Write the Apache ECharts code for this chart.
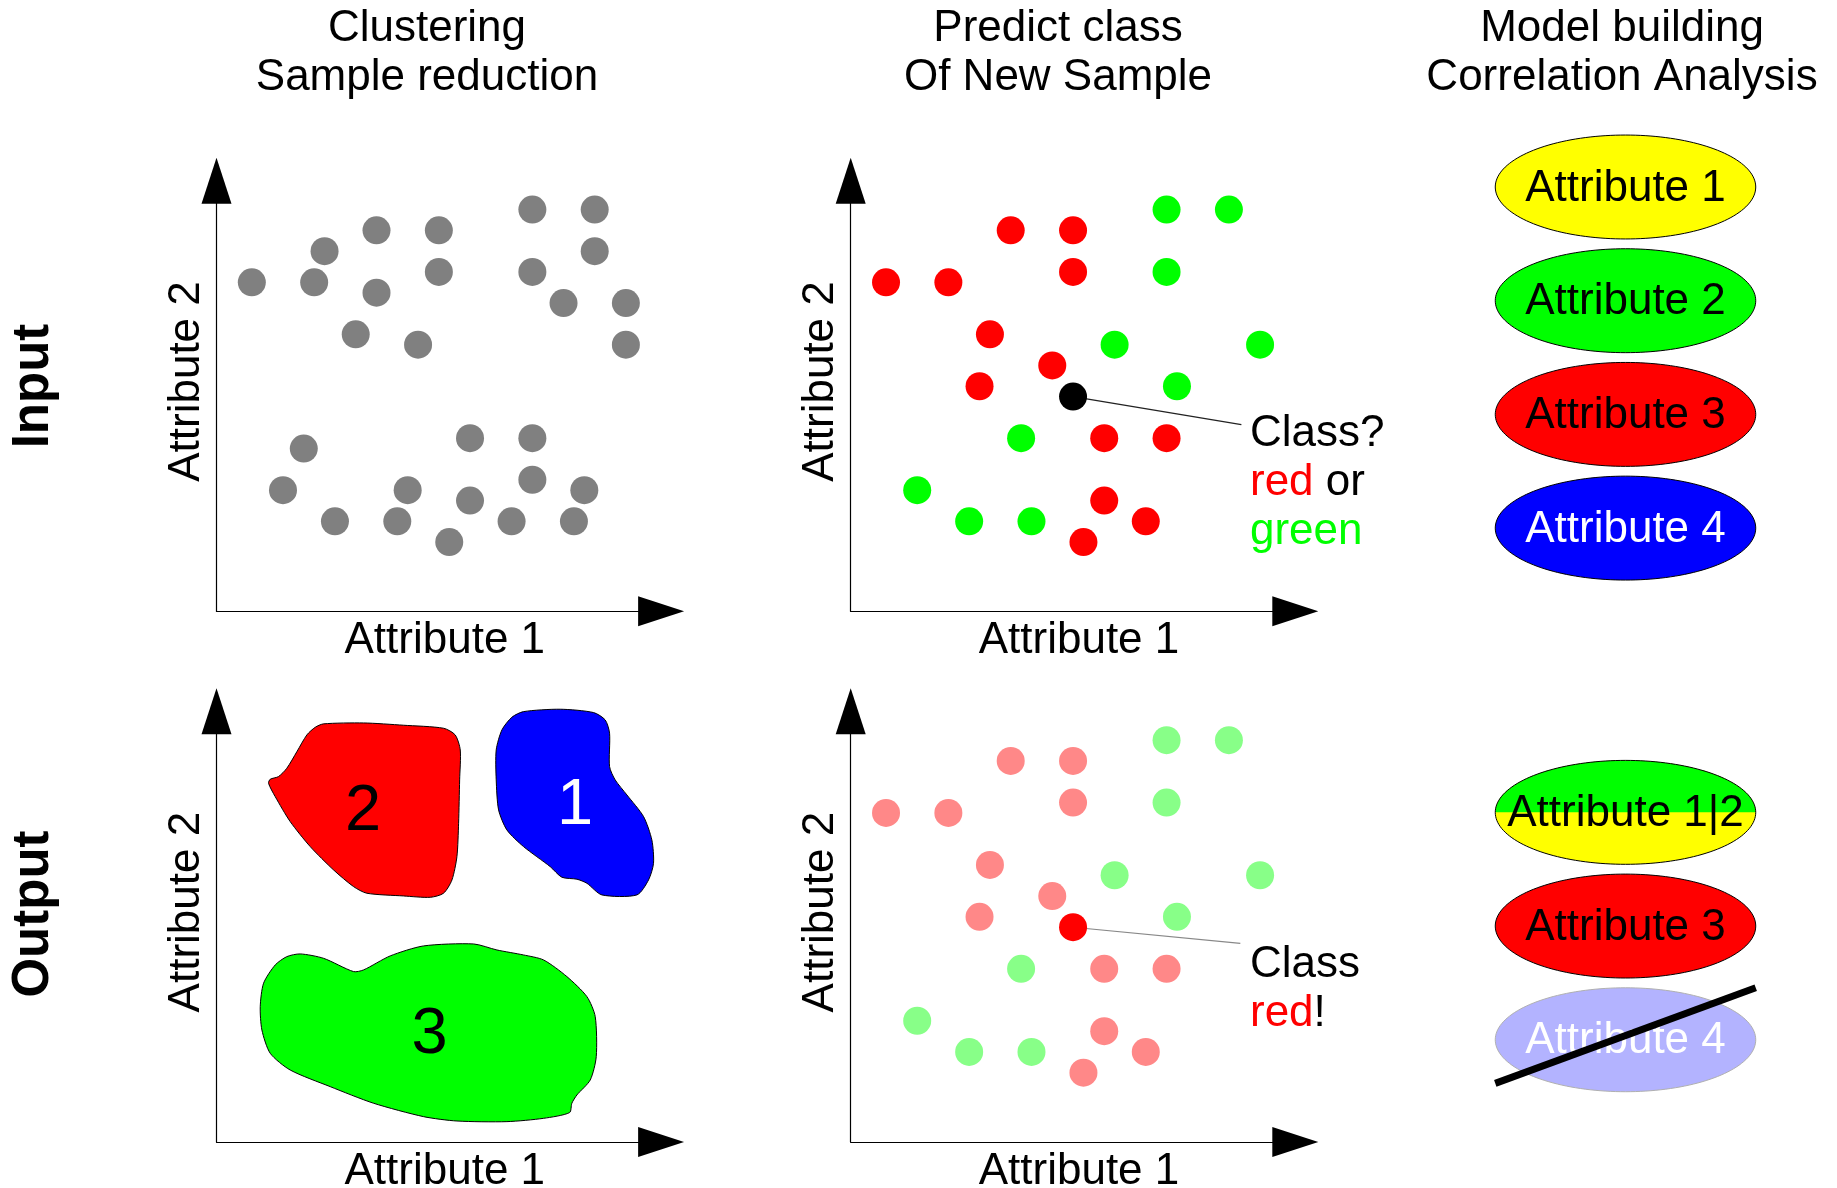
<!DOCTYPE html>
<html>
<head>
<meta charset="utf-8">
<script src="https://cdn.jsdelivr.net/npm/echarts@6/dist/echarts.min.js"></script>
<style>
html,body{margin:0;padding:0;background:#fff;}
#chart{width:1837px;height:1188px;}
</style>
</head>
<body>
<div id="chart"></div>
<script>
// ---------------- DATA ----------------
// Attribute 1 / Attribute 2 values (grid units) of the unlabelled samples (clustering panel)
const clusterPoints = [
  [3,31],[9,31],[10,34],[15,36],[15,30],[13,26],[19,25],[21,36],[21,32],
  [30,38],[36,38],[36,34],[30,32],[33,29],[39,29],[39,25],
  [8,15],[6,11],[11,8],[17,8],[18,11],[22,6],[24,16],[24,10],[28,8],[30,16],[30,12],[34,8],[35,11]
];
// labelled samples (classification panels)
const redSamples = [
  [15,36],[21,36],[21,32],[3,31],[9,31],[13,26],[19,23],[12,21],[24,16],[30,16],[24,10],[28,8],[22,6]
];
const greenSamples = [
  [30,38],[36,38],[30,32],[25,25],[39,25],[31,21],[16,16],[6,11],[11,8],[17,8]
];
const newSample = [[21,20]];
// callout leader lines (from new sample to the text)
const calloutInput = [[21,20],[37.2,17.3]];
const calloutOutput = [[21,20],[37.1,18.45]];

// cluster outlines (Attribute 1, Attribute 2)
const cluster1Outline = [
  [29.15,40.75],[32.68,40.98],[35.89,40.66],[37.01,39.95],[37.43,38.67],[37.43,35.46],[37.97,34.18],
  [39.1,32.73],[40.7,30.65],[41.5,28.4],[41.66,26.15],[41.18,24.55],[40.06,23.11],[36.69,23.11],
  [35.25,24.23],[34.29,24.62],[32.84,24.81],[31.72,25.83],[29.15,27.76],[27.55,29.36],[26.75,31.29],
  [26.52,34.18],[26.52,37.06],[27.07,38.99],[28.03,40.21]
];
const cluster2Outline = [
  [9.9,39.57],[13.75,39.66],[17.6,39.44],[21.45,39.15],[22.57,38.51],[23.06,37.06],[23.0,34.18],
  [22.9,30.0],[22.74,26.8],[22.26,24.55],[21.45,23.27],[20.17,22.88],[17.6,23.01],[14.07,23.27],
  [12.79,23.91],[10.87,25.51],[8.62,27.76],[6.69,30.17],[5.25,32.57],[4.61,33.85],[4.77,34.24],
  [5.57,34.5],[6.37,35.3],[7.34,36.9],[8.3,38.51],[9.1,39.24]
];
const cluster3Outline = [
  [7.66,17.43],[9.9,17.01],[12.79,15.73],[13.75,15.89],[16.32,17.24],[19.53,18.2],[24.34,18.39],
  [26.59,17.81],[29.15,17.33],[31.08,16.85],[33.32,15.25],[35.25,13.32],[36.05,11.4],[36.15,7.55],
  [35.57,5.3],[34.29,3.86],[33.8,3.06],[33.58,2.16],[31.08,1.61],[27.55,1.29],[22.74,1.35],
  [19.53,1.77],[14.72,3.06],[10.54,4.66],[6.69,6.26],[4.77,7.87],[3.97,10.11],[3.81,12.36],
  [4.13,14.61],[5.25,16.37],[6.37,17.17]
];
const clusterNames = ['1','2','3'];
const clusterCentres = [[34.1,31.7],[13.7,31.1],[20.1,9.6]];

// attribute lists (right column); rows = slot index from the top
const inputAttributes = ['Attribute 1','Attribute 2','Attribute 3','Attribute 4'];
const inputRows = [0,1,2,3];
const outputAttributes = ['Attribute 1|2','Attribute 3','Attribute 4'];
const outputRows = [5.5,6.5,7.5];
const outputStatus = ['merged','kept','removed'];

// texts
const columnTitles = ['Clustering\nSample reduction','Predict class\nOf New Sample','Model building\nCorrelation Analysis'];
const rowTitles = ['Input','Output'];

// ---------------- STYLE ----------------
const FF = '"Liberation Sans", Arial, Helvetica, sans-serif';
const FS = 44;
const RED = '#ff0000', GREEN = '#00ff00', BLUE = '#0000ff', YELLOW = '#ffff00';
const FADED_RED = '#ff8888', FADED_GREEN = '#88ff88', FADED_BLUE = '#b3b3ff', GREY = '#808080';
const attrFill = {'Attribute 1':YELLOW,'Attribute 2':GREEN,'Attribute 3':RED,'Attribute 4':BLUE};
const clusterFill = [BLUE, RED, GREEN];
const clusterText = ['#ffffff','#000000','#000000'];
const clusterOutlines = [cluster1Outline, cluster2Outline, cluster3Outline];

const X_MIN = -0.4, X_MAX = 42.39, Y_MIN = -0.66, Y_MAX = 40.78;
const PLOT_W = 444.6, PLOT_H = 430.6;
const COL_LEFT = [216.5, 850.7], ROW_TOP = [180.7, 711.3];

const chart = echarts.init(document.getElementById('chart'), null, {renderer:'canvas'});

function plotGrid(col,row){
  return {left:COL_LEFT[col], top:ROW_TOP[row], width:PLOT_W, height:PLOT_H, containLabel:false, outerBoundsMode:'none', show:false};
}
function axisLineStyle(){
  return {show:true, onZero:false, symbol:['none','triangle'], symbolSize:[30,46], lineStyle:{color:'#000', width:1.2}};
}
function makeX(gi){
  return {type:'value', gridIndex:gi, min:X_MIN, max:X_MAX, name:'Attribute 1', nameLocation:'middle', nameGap:7.5,
    nameTextStyle:{fontSize:FS, fontFamily:FF, color:'#000', padding:[0,0,0,12]},
    axisLine:axisLineStyle(), axisTick:{show:false}, axisLabel:{show:false}, splitLine:{show:false}};
}
function makeY(gi){
  return {type:'value', gridIndex:gi, min:Y_MIN, max:Y_MAX, name:'Attribute 2', nameLocation:'middle', nameGap:7.5,
    nameTextStyle:{fontSize:FS, fontFamily:FF, color:'#000', padding:[0,0,0,29]},
    axisLine:axisLineStyle(), axisTick:{show:false}, axisLabel:{show:false}, splitLine:{show:false}};
}

function ellipsePts(cx, cy, rx, ry, a0, a1, n){
  const pts = [];
  for (let k = 0; k <= n; k++){
    const a = a0 + (a1 - a0) * k / n;
    pts.push([cx + rx * Math.cos(a), cy + ry * Math.sin(a)]);
  }
  return pts;
}

function renderAttr(names, statuses){
  return function(params, api){
    const i = params.dataIndex;
    const name = names[i];
    const status = statuses ? statuses[i] : 'plain';
    const c = api.coord([api.value(0), api.value(1)]);
    const c2 = api.coord([api.value(0) + 1, api.value(1) + 1]);
    const rx = Math.abs(c2[0] - c[0]) * 0.998;
    const ry = Math.abs(c2[1] - c[1]) * 0.457;
    const children = [];
    const full = ellipsePts(c[0], c[1], rx, ry, 0, Math.PI * 2, 160);
    let textFill = '#000';
    if (status === 'merged'){
      children.push({type:'polygon', shape:{points:full}, style:{fill:YELLOW, stroke:null}});
      children.push({type:'polygon', shape:{points:ellipsePts(c[0], c[1], rx, ry, Math.PI, Math.PI * 2, 80)}, style:{fill:GREEN, stroke:null}});
      children.push({type:'polygon', shape:{points:full}, style:{fill:null, stroke:'#000', lineWidth:1}});
    } else if (status === 'removed'){
      children.push({type:'polygon', shape:{points:full}, style:{fill:FADED_BLUE, stroke:'#b0b0b0', lineWidth:1}});
      textFill = '#ffffff';
    } else {
      children.push({type:'polygon', shape:{points:full}, style:{fill:attrFill[name], stroke:'#000', lineWidth:1}});
      if (name === 'Attribute 4') textFill = '#ffffff';
    }
    children.push({type:'text', x:c[0], y:c[1] + 1.5, style:{text:name, fill:textFill, fontSize:FS, fontFamily:FF, align:'center', verticalAlign:'middle'}});
    if (status === 'removed'){
      children.push({type:'line', shape:{x1:c[0] - rx, y1:c[1] + ry * 0.84, x2:c[0] + rx, y2:c[1] - ry * 1.0}, style:{stroke:'#000', lineWidth:7, lineCap:'butt'}});
    }
    return {type:'group', children};
  };
}

function renderCluster(params, api){
  const i = params.dataIndex;
  const pts = clusterOutlines[i].map(p => api.coord(p));
  const c = api.coord([api.value(0), api.value(1)]);
  return {type:'group', children:[
    {type:'polygon', shape:{points:pts, smooth:0.25}, style:{fill:clusterFill[i], stroke:'#000', lineWidth:1}},
    {type:'text', x:c[0], y:c[1], style:{text:clusterNames[i], fill:clusterText[i], fontSize:65, fontFamily:FF, align:'center', verticalAlign:'middle'}}
  ]};
}

function dots(gi, data, color, z){
  return {type:'scatter', xAxisIndex:gi, yAxisIndex:gi, data, symbol:'circle', symbolSize:28,
    itemStyle:{color, opacity:1}, silent:true, z:z || 3, emphasis:{disabled:true}};
}

const option = {
  animation:false,
  backgroundColor:'#ffffff',
  grid:[plotGrid(0,0), plotGrid(1,0), plotGrid(0,1), plotGrid(1,1),
    {left:1495, top:73.3, width:261, height:1023.3, containLabel:false, outerBoundsMode:'none', show:false}],
  xAxis:[makeX(0), makeX(1), makeX(2), makeX(3),
    {type:'value', gridIndex:4, min:-1, max:1, show:false}],
  yAxis:[makeY(0), makeY(1), makeY(2), makeY(3),
    {type:'value', gridIndex:4, min:-1, max:8, inverse:true, show:false}],
  graphic:[
    {type:'text', x:427, y:4, silent:true, style:{text:columnTitles[0], fill:'#000', fontSize:FS, fontFamily:FF, lineHeight:49, align:'center', verticalAlign:'top'}},
    {type:'text', x:1058, y:4, silent:true, style:{text:columnTitles[1], fill:'#000', fontSize:FS, fontFamily:FF, lineHeight:49, align:'center', verticalAlign:'top'}},
    {type:'text', x:1622, y:4, silent:true, style:{text:columnTitles[2], fill:'#000', fontSize:FS, fontFamily:FF, lineHeight:49, align:'center', verticalAlign:'top'}},
    {type:'text', x:34, y:386, rotation:Math.PI/2, silent:true, style:{text:rowTitles[0], fill:'#000', fontSize:51, fontWeight:'bold', fontFamily:FF, align:'center', verticalAlign:'middle'}},
    {type:'text', x:34, y:914, rotation:Math.PI/2, silent:true, style:{text:rowTitles[1], fill:'#000', fontSize:51, fontWeight:'bold', fontFamily:FF, align:'center', verticalAlign:'middle'}},
    {type:'text', x:1250, y:409.5, silent:true, style:{text:'Class?\n{r|red} or\n{g|green}', fill:'#000', fontSize:FS, fontFamily:FF, lineHeight:49, align:'left', verticalAlign:'top',
      rich:{r:{fill:RED, fontSize:FS, fontFamily:FF, lineHeight:49}, g:{fill:GREEN, fontSize:FS, fontFamily:FF, lineHeight:49}}}},
    {type:'text', x:1250, y:940.5, silent:true, style:{text:'Class\n{r|red}!', fill:'#000', fontSize:FS, fontFamily:FF, lineHeight:49, align:'left', verticalAlign:'top',
      rich:{r:{fill:RED, fontSize:FS, fontFamily:FF, lineHeight:49}}}}
  ],
  series:[
    dots(0, clusterPoints, GREY),
    {type:'line', xAxisIndex:1, yAxisIndex:1, data:calloutInput, symbol:'none', silent:true, z:1, lineStyle:{color:'#222', width:1.3}},
    dots(1, redSamples, RED),
    dots(1, greenSamples, GREEN),
    dots(1, newSample, '#000000', 4),
    {type:'custom', xAxisIndex:2, yAxisIndex:2, data:clusterCentres.map(p => [p[0], p[1]]), encode:{x:0, y:1}, renderItem:renderCluster, silent:true, z:2},
    {type:'line', xAxisIndex:3, yAxisIndex:3, data:calloutOutput, symbol:'none', silent:true, z:1, lineStyle:{color:'#888', width:1.2}},
    dots(3, redSamples, FADED_RED),
    dots(3, greenSamples, FADED_GREEN),
    dots(3, newSample, RED, 4),
    {type:'custom', xAxisIndex:4, yAxisIndex:4, data:inputRows.map(r => [0, r]), encode:{x:0, y:1}, renderItem:renderAttr(inputAttributes, null), silent:true},
    {type:'custom', xAxisIndex:4, yAxisIndex:4, data:outputRows.map(r => [0, r]), encode:{x:0, y:1}, renderItem:renderAttr(outputAttributes, outputStatus), silent:true}
  ]
};
chart.setOption(option);
</script>
</body>
</html>
